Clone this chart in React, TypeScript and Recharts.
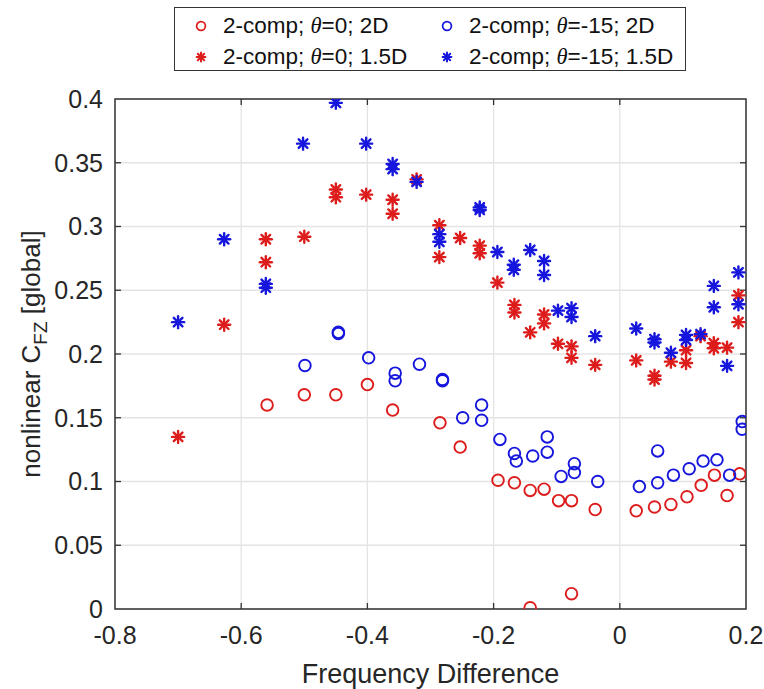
import React from 'react';
import {
  ScatterChart,
  Scatter,
  XAxis,
  YAxis,
  CartesianGrid,
  ReferenceArea,
  ReferenceLine,
  Legend,
} from 'recharts';

const RED = '#dd1c1c';
const BLUE = '#1616dd';
const AXIS = '#333333';
const FONT = '"Liberation Sans", Arial, Helvetica, sans-serif';

const X_TICKS = [-0.8, -0.6, -0.4, -0.2, 0, 0.2];
const Y_TICKS = [0, 0.05, 0.1, 0.15, 0.2, 0.25, 0.3, 0.35, 0.4];

// 2-comp; theta=0; 2D (red circles)
const red2dX = [-0.559, -0.5, -0.45, -0.4, -0.36, -0.285, -0.253, -0.193, -0.167, -0.142, -0.142, -0.12, -0.097, -0.0765, -0.0765, -0.039, 0.026, 0.055, 0.081, 0.1065, 0.129, 0.15, 0.17, 0.19];
const red2dY = [0.16, 0.168, 0.168, 0.176, 0.156, 0.146, 0.127, 0.101, 0.099, 0.093, 0.001, 0.094, 0.085, 0.085, 0.012, 0.078, 0.077, 0.08, 0.082, 0.088, 0.097, 0.105, 0.089, 0.106];

// 2-comp; theta=0; 1.5D (red stars)
const red15X = [-0.7, -0.627, -0.561, -0.561, -0.5, -0.45, -0.45, -0.402, -0.36, -0.36, -0.322, -0.286, -0.286, -0.253, -0.222, -0.222, -0.194, -0.167, -0.167, -0.142, -0.12, -0.12, -0.098, -0.0765, -0.0765, -0.039, 0.026, 0.055, 0.055, 0.081, 0.105, 0.105, 0.128, 0.149, 0.149, 0.17, 0.188, 0.188];
const red15Y = [0.135, 0.223, 0.29, 0.272, 0.292, 0.329, 0.323, 0.325, 0.321, 0.31, 0.337, 0.301, 0.276, 0.291, 0.285, 0.279, 0.256, 0.2385, 0.2325, 0.217, 0.231, 0.224, 0.208, 0.206, 0.197, 0.1915, 0.195, 0.183, 0.18, 0.194, 0.203, 0.193, 0.214, 0.2085, 0.2045, 0.205, 0.246, 0.225];

// 2-comp; theta=-15; 2D (blue circles)
const blue2dX = [-0.499, -0.446, -0.446, -0.398, -0.356, -0.356, -0.3175, -0.281, -0.281, -0.249, -0.219, -0.219, -0.19, -0.167, -0.164, -0.138, -0.115, -0.115, -0.093, -0.072, -0.072, -0.035, 0.031, 0.06, 0.06, 0.085, 0.11, 0.132, 0.154, 0.174, 0.194, 0.194];
const blue2dY = [0.191, 0.217, 0.216, 0.197, 0.185, 0.179, 0.192, 0.18, 0.179, 0.15, 0.16, 0.148, 0.133, 0.122, 0.116, 0.12, 0.135, 0.123, 0.104, 0.114, 0.107, 0.1, 0.096, 0.124, 0.099, 0.105, 0.11, 0.116, 0.117, 0.105, 0.147, 0.141];

// 2-comp; theta=-15; 1.5D (blue stars)
const blue15X = [-0.7, -0.627, -0.561, -0.561, -0.502, -0.45, -0.402, -0.36, -0.36, -0.322, -0.286, -0.286, -0.222, -0.222, -0.194, -0.168, -0.168, -0.142, -0.12, -0.12, -0.098, -0.0765, -0.0765, -0.039, 0.026, 0.055, 0.055, 0.081, 0.105, 0.105, 0.128, 0.149, 0.149, 0.17, 0.188, 0.188];
const blue15Y = [0.225, 0.29, 0.255, 0.252, 0.365, 0.397, 0.365, 0.349, 0.345, 0.335, 0.294, 0.288, 0.315, 0.313, 0.28, 0.27, 0.266, 0.2816, 0.273, 0.262, 0.234, 0.236, 0.229, 0.214, 0.22, 0.2116, 0.209, 0.201, 0.215, 0.211, 0.2156, 0.2534, 0.2367, 0.1907, 0.264, 0.239];

const toPoints = (xs: number[], ys: number[]) => xs.map((x, i) => ({ x, y: ys[i] }));

const X_MIN = X_TICKS[0];
const X_MAX = X_TICKS[X_TICKS.length - 1];
const Y_MIN = Y_TICKS[0];
const Y_MAX = Y_TICKS[Y_TICKS.length - 1];
const TICK_DX = 0.0095;
const TICK_DY = 0.0047;

const circleShape = (color: string) => (props: any) => (
  <circle cx={props.cx} cy={props.cy} r={5.8} fill="none" stroke={color} strokeWidth={1.9} />
);

const StarGlyph = ({ cx, cy, r, color, w }: { cx: number; cy: number; r: number; color: string; w: number }) => {
  const d = r * 0.72;
  return (
    <g stroke={color} strokeWidth={w} strokeLinecap="round">
      <line x1={cx - r} y1={cy} x2={cx + r} y2={cy} />
      <line x1={cx} y1={cy - r} x2={cx} y2={cy + r} />
      <line x1={cx - d} y1={cy - d} x2={cx + d} y2={cy + d} />
      <line x1={cx - d} y1={cy + d} x2={cx + d} y2={cy - d} />
    </g>
  );
};

const starShape = (color: string) => (props: any) => (
  <StarGlyph cx={props.cx} cy={props.cy} r={6} color={color} w={2.4} />
);

const LEGEND_ITEMS = [
  { kind: 'circle', color: RED, theta: '0', dim: '2D', col: 0, row: 0 },
  { kind: 'star', color: RED, theta: '0', dim: '1.5D', col: 0, row: 1 },
  { kind: 'circle', color: BLUE, theta: '-15', dim: '2D', col: 1, row: 0 },
  { kind: 'star', color: BLUE, theta: '-15', dim: '1.5D', col: 1, row: 1 },
];

const LegendBox = () => (
  <div
    style={{
      boxSizing: 'border-box',
      width: 512,
      height: 64,
      border: '1px solid #333',
      background: '#fff',
      position: 'relative',
      fontFamily: FONT,
      fontSize: 22.5,
      color: '#111',
    }}
  >
    {LEGEND_ITEMS.map((it, i) => (
      <div
        key={i}
        style={{
          position: 'absolute',
          left: it.col === 0 ? 15 : 261,
          top: it.row === 0 ? 2.5 : 33.5,
          height: 31,
          display: 'flex',
          alignItems: 'center',
          whiteSpace: 'nowrap',
          lineHeight: 1,
        }}
      >
        <svg width={22} height={22} style={{ display: 'block' }}>
          {it.kind === 'circle' ? (
            <circle cx={11} cy={11} r={4.4} fill="none" stroke={it.color} strokeWidth={1.7} />
          ) : (
            <StarGlyph cx={11} cy={11} r={4.4} color={it.color} w={2} />
          )}
        </svg>
        <span style={{ marginLeft: 11 }}>
          2-comp;{' '}
          <span style={{ fontStyle: 'italic', fontFamily: '"Liberation Serif", "DejaVu Serif", serif' }}>θ</span>
          ={it.theta}; {it.dim}
        </span>
      </div>
    ))}
  </div>
);

const YLabel = () => (
  <text
    transform="translate(40,354) rotate(-90)"
    textAnchor="middle"
    fontFamily={FONT}
    fontSize={26}
    fill="#262626"
  >
    nonlinear C
    <tspan dy={7} fontSize={19}>FZ</tspan>
    <tspan dy={-7}>{'  [global]'}</tspan>
  </text>
);

export default function App() {
  return (
    <div style={{ position: 'absolute', left: 0, top: 0, width: 764, height: 689, background: '#fff' }}>
      <ScatterChart width={764} height={689} margin={{ top: 99, right: 18, bottom: 0, left: 0 }}>
        <CartesianGrid stroke="#e4e4e4" strokeWidth={1.3} />
        <XAxis
          type="number"
          dataKey="x"
          domain={[X_MIN, X_MAX]}
          ticks={X_TICKS}
          allowDataOverflow
          height={80}
          axisLine={false}
          tickLine={false}
          tickSize={0}
          tickMargin={17}
          tick={{ fontFamily: FONT, fontSize: 25, fill: '#262626' }}
          tickFormatter={(v: number) => String(Math.round(v * 10) / 10)}
          label={{
            value: 'Frequency Difference',
            position: 'insideBottom',
            offset: 6,
            style: { fontFamily: FONT, fontSize: 27, fill: '#262626' },
          }}
        />
        <YAxis
          type="number"
          dataKey="y"
          domain={[Y_MIN, Y_MAX]}
          ticks={Y_TICKS}
          allowDataOverflow
          width={115}
          axisLine={false}
          tickLine={false}
          tickSize={0}
          tickMargin={12}
          tick={{ fontFamily: FONT, fontSize: 25, fill: '#262626' }}
          tickFormatter={(v: number) => String(Math.round(v * 100) / 100)}
          label={{ content: () => <YLabel /> }}
        />
        <ReferenceArea
          x1={X_MIN}
          x2={X_MAX}
          y1={Y_MIN}
          y2={Y_MAX}
          fill="none"
          fillOpacity={0}
          stroke={AXIS}
          strokeWidth={1.5}
        />
        {X_TICKS.slice(1, -1).map((t) => (
          <ReferenceLine key={'xb' + t} segment={[{ x: t, y: Y_MIN }, { x: t, y: Y_MIN + TICK_DY }]} stroke={AXIS} strokeWidth={1.3} />
        ))}
        {X_TICKS.slice(1, -1).map((t) => (
          <ReferenceLine key={'xt' + t} segment={[{ x: t, y: Y_MAX }, { x: t, y: Y_MAX - TICK_DY }]} stroke={AXIS} strokeWidth={1.3} />
        ))}
        {Y_TICKS.slice(1, -1).map((t) => (
          <ReferenceLine key={'yl' + t} segment={[{ x: X_MIN, y: t }, { x: X_MIN + TICK_DX, y: t }]} stroke={AXIS} strokeWidth={1.3} />
        ))}
        {Y_TICKS.slice(1, -1).map((t) => (
          <ReferenceLine key={'yr' + t} segment={[{ x: X_MAX, y: t }, { x: X_MAX - TICK_DX, y: t }]} stroke={AXIS} strokeWidth={1.3} />
        ))}
        <Scatter name="2-comp; θ=0; 2D" data={toPoints(red2dX, red2dY)} shape={circleShape(RED)} isAnimationActive={false} />
        <Scatter name="2-comp; θ=0; 1.5D" data={toPoints(red15X, red15Y)} shape={starShape(RED)} isAnimationActive={false} />
        <Scatter name="2-comp; θ=-15; 2D" data={toPoints(blue2dX, blue2dY)} shape={circleShape(BLUE)} isAnimationActive={false} />
        <Scatter name="2-comp; θ=-15; 1.5D" data={toPoints(blue15X, blue15Y)} shape={starShape(BLUE)} isAnimationActive={false} />
        <Legend
          layout="vertical"
          align="center"
          verticalAlign="middle"
          content={() => <LegendBox />}
          wrapperStyle={{ position: 'absolute', left: 174, top: 7, width: 512, height: 64, margin: 0, padding: 0 }}
        />
      </ScatterChart>
    </div>
  );
}
